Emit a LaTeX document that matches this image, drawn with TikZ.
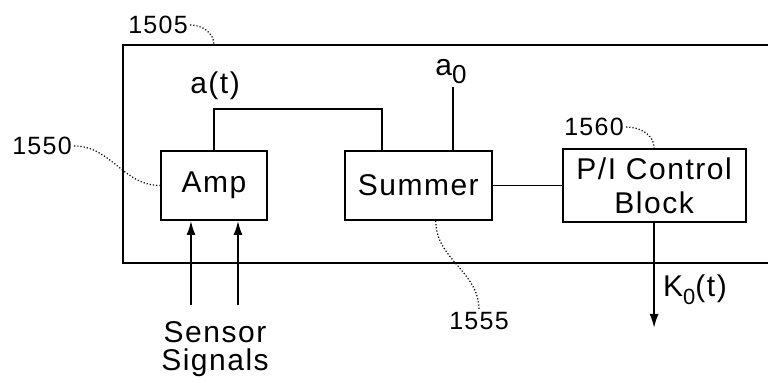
\documentclass[tikz,border=0pt]{standalone}
\usepackage{fontspec}
\setmainfont[LetterSpace=5]{Liberation Sans}
\usetikzlibrary{positioning,arrows.meta}

\begin{document}
\begin{tikzpicture}[x=0.5pt,y=-0.5pt,
        box/.style={rectangle,draw,line width=0.9pt,align=center,minimum height=34.5pt,inner sep=1pt,font=\fontsize{15}{17}\selectfont},
        txt/.style={font=\fontsize{15}{14}\selectfont,align=center},
        num/.style={font=\fontsize{12.5}{14}\selectfont,inner sep=1pt},
        lead/.style={densely dotted,line width=0.6pt},
        wire/.style={line width=0.9pt},
        arrow/.style={-{Latex[length=7pt,width=4.5pt]},line width=0.9pt}]
        \useasboundingbox (0,0) rectangle (768,383);
        % outer block 1505, open on the right
        \draw[wire] (768,45) -- (123,45) -- (123,263) -- (768,263);
        \node[box,minimum width=53pt] (amp) at (214,185.5) {Amp};
        \node[box,minimum width=73.5pt,right=38pt of amp] (summer) {Summer};
        \node[box,minimum width=91.5pt,minimum height=36.5pt,right=34.5pt of summer] (pic) {P/I Control\\Block};
        \coordinate (atop) at (382,109);
        \coordinate (azero) at (453,87);
        \coordinate (s1) at (191,305);
        \coordinate (s2) at (238,305);
        \coordinate (kout) at (651,328);
        \coordinate (f1) at (214,45);
        \node[txt] (at) at (215,86) {a(t)};
        \node[txt] (a0) at (451,72) {a\raisebox{-4pt}{\fontsize{13}{14}\selectfont 0}};
        \node[txt] (k0) at (695,290) {K\raisebox{-4pt}{\fontsize{11}{12}\selectfont 0}(t)};
        \node[txt] (sens) at (215,349) {Sensor\\Signals};
        \node[num] (n1505) at (158,25) {1505};
        \node[num] (n1550) at (42,146) {1550};
        \node[num] (n1560) at (594,127) {1560};
        \node[num] (n1555) at (479,321) {1555};
        \draw[wire] (amp.north) |- (atop) -- (atop |- summer.north);
        \draw[wire] (azero) -- (azero |- summer.north);
        \draw[wire] (summer.east) -- (pic.west);
        \draw[arrow] (s1) -- (s1 |- amp.south);
        \draw[arrow] (s2) -- (s2 |- amp.south);
        \draw[arrow] (pic.south) -- (pic.south |- kout);
        \draw[lead] (n1505.east) to[out=0,in=90] (f1);
        \draw[lead] (n1550.east) to[out=0,in=180] (amp.west);
        \draw[lead] (n1560.east) to[out=0,in=90] (pic.north);
        \draw[lead] ([xshift=8.75pt]summer.south) to[out=-90,in=90] (n1555.north);
    \end{tikzpicture}
\end{document}
